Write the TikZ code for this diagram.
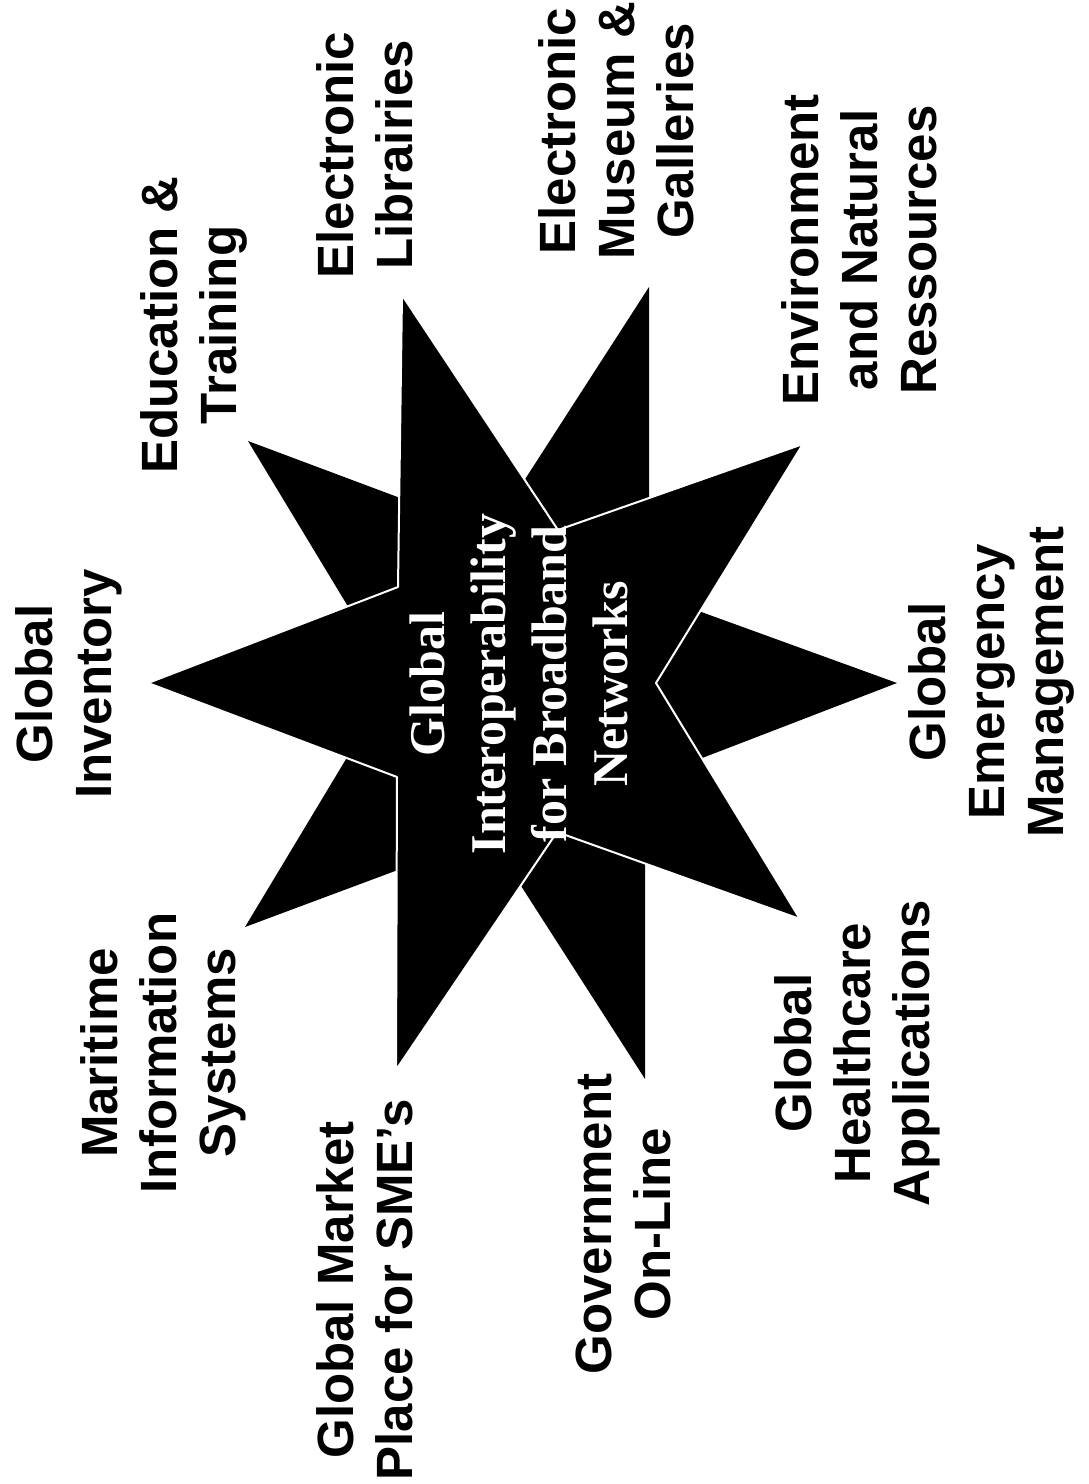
\documentclass[tikz,border=0pt]{standalone}
\usepackage{fontspec}
\setmainfont{Liberation Sans}
\newfontfamily\ctrfont{Liberation Serif}
\begin{document}
\begin{tikzpicture}[x=1pt,y=-1pt,
  lbl/.style={rotate=90, anchor=north, align=center, inner sep=0pt,
    font=\fontsize{51}{59}\selectfont\bfseries},
  ctrtext/.style={rotate=90, anchor=north, align=center, inner sep=0pt, text=white,
    font=\ctrfont\fontsize{50}{61}\selectfont\bfseries},
  backstar/.style={fill=black},
  frontstar/.style={fill=black, draw=white, line width=2pt, line join=round}]
\useasboundingbox (0,0) rectangle (1088,1484);
\fill[white] (0,0) rectangle (1088,1484);

% back pentagram (pointing right)
\fill[backstar] (897,683) -- (649,593) -- (649,287) -- (491,532) -- (248,441)
  -- (393,681) -- (245,927) -- (489,836) -- (645,1079) -- (645,780) -- cycle;
% front pentagram (pointing left), white outline
\filldraw[frontstar] (148,683) -- (398,587) -- (402,295) -- (558,530) -- (803,444)
  -- (656,683) -- (800,919) -- (557,832) -- (396,1070) -- (397,777) -- cycle;

\node[ctrtext] (centre) at (410,684) {Global\\Interoperability\\for Broadband\\Networks};

\node[lbl] (inv) at (15,684) {Global\\Inventory};
\node[lbl] (mar) at (80,1053) {Maritime\\Information\\Systems};
\node[lbl] (edu) at (140,325) {Education \&\\Training};
\node[lbl] (lib) at (316,155) {Electronic\\Librairies};
\node[lbl] (mkt) at (316,1290) {Global Market\\Place for SME's};
\node[lbl] (mus) at (538,131) {Electronic\\Museum \&\\Galleries};
\node[lbl] (gov) at (576,1224) {Government\\On-Line};
\node[lbl] (env) at (781,250) {Environment\\and Natural\\Ressources};
\node[lbl] (hea) at (774,1053) {Global\\Healthcare\\Applications};
\node[lbl] (eme) at (908,682) {Global\\Emergency\\Management};
\end{tikzpicture}
\end{document}
